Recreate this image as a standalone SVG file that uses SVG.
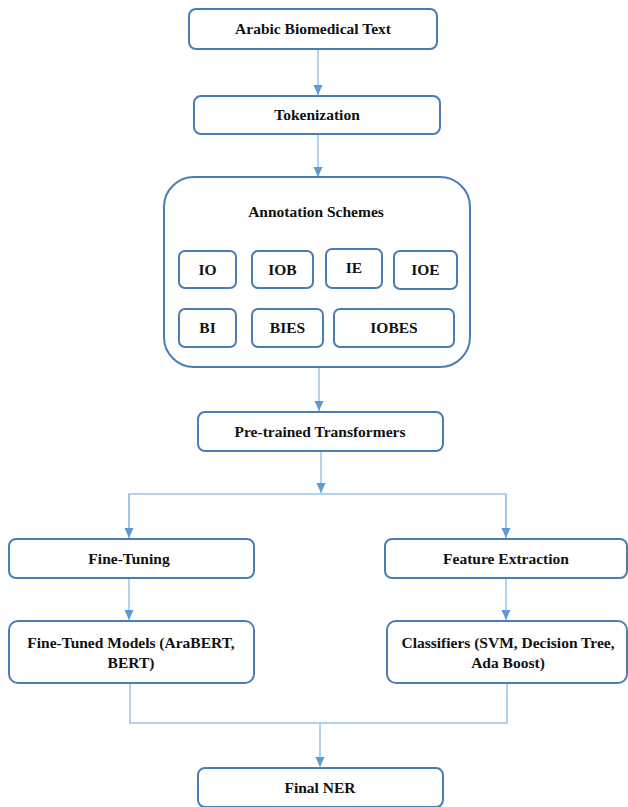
<svg xmlns="http://www.w3.org/2000/svg" width="628" height="807" viewBox="0 0 628 807">
<defs>
<marker id="ah" markerUnits="userSpaceOnUse" markerWidth="10" markerHeight="10" viewBox="0 0 10 10" refX="10" refY="5" orient="auto">
<path d="M0,0.5 L10,5 L0,9.5 Z" fill="#5b9bd5"/>
</marker>
<style>
.box{fill:#ffffff;stroke:#4a7db5;stroke-width:2}
text{font-family:'Liberation Serif','Times New Roman','DejaVu Serif',serif;font-weight:bold;font-size:15.5px;fill:#111;text-anchor:middle}
.c{fill:none;stroke:#9cc3e8;stroke-width:1.5}
</style>
</defs>
<rect width="628" height="807" fill="#ffffff"/>
<g id="connectors">
<line class="c" x1="318" y1="49" x2="318" y2="95" marker-end="url(#ah)"/>
<line class="c" x1="318" y1="134" x2="318" y2="177" marker-end="url(#ah)"/>
<line class="c" x1="319" y1="367" x2="319" y2="411" marker-end="url(#ah)"/>
<line class="c" x1="321" y1="451" x2="321" y2="493" marker-end="url(#ah)"/>
<polyline class="c" points="129,537 129,494 506,494 506,537"/>
<line class="c" x1="129" y1="494" x2="129" y2="538" marker-end="url(#ah)"/>
<line class="c" x1="506" y1="494" x2="506" y2="538" marker-end="url(#ah)"/>
<line class="c" x1="129" y1="578" x2="129" y2="620" marker-end="url(#ah)"/>
<line class="c" x1="506" y1="578" x2="506" y2="620" marker-end="url(#ah)"/>
<polyline class="c" points="130,683 130,723 507,723 507,683"/>
<line class="c" x1="320" y1="723" x2="320" y2="767" marker-end="url(#ah)"/>
</g>
<g id="arabic-text">
<rect class="box" x="189" y="9" width="248" height="40" rx="7"/>
<text x="313" y="34">Arabic Biomedical Text</text>
</g>
<g id="tokenization">
<rect class="box" x="194" y="96" width="246" height="38" rx="7"/>
<text x="317" y="120">Tokenization</text>
</g>
<g id="annotation-schemes">
<rect class="box" x="164" y="177" width="306" height="190" rx="30"/>
<text x="316" y="217">Annotation Schemes</text>
</g>
<g id="io">
<rect class="box" x="179" y="251" width="57" height="37" rx="6"/>
<text x="207.5" y="275">IO</text>
</g>
<g id="iob">
<rect class="box" x="252" y="251" width="61" height="37" rx="6"/>
<text x="282.5" y="275">IOB</text>
</g>
<g id="ie">
<rect class="box" x="326" y="249" width="56" height="39" rx="6"/>
<text x="354" y="273">IE</text>
</g>
<g id="ioe">
<rect class="box" x="394" y="251" width="63" height="38" rx="6"/>
<text x="425.5" y="275">IOE</text>
</g>
<g id="bi">
<rect class="box" x="179" y="309" width="57" height="38" rx="6"/>
<text x="207.5" y="333">BI</text>
</g>
<g id="bies">
<rect class="box" x="252" y="309" width="71" height="38" rx="6"/>
<text x="287.5" y="333">BIES</text>
</g>
<g id="iobes">
<rect class="box" x="334" y="309" width="120" height="38" rx="6"/>
<text x="394" y="333">IOBES</text>
</g>
<g id="pretrained">
<rect class="box" x="198" y="412" width="245" height="39" rx="7"/>
<text x="320" y="437">Pre-trained Transformers</text>
</g>
<g id="fine-tuning">
<rect class="box" x="9" y="539" width="245" height="39" rx="7"/>
<text x="129" y="564">Fine-Tuning</text>
</g>
<g id="feature-extraction">
<rect class="box" x="385" y="539" width="242" height="39" rx="7"/>
<text x="506" y="564">Feature Extraction</text>
</g>
<g id="fine-tuned-models">
<rect class="box" x="9" y="621" width="245" height="62" rx="9"/>
<text x="131" y="648">Fine-Tuned Models (AraBERT,</text>
<text x="131" y="668">BERT)</text>
</g>
<g id="classifiers">
<rect class="box" x="387" y="621" width="240" height="62" rx="9"/>
<text x="508" y="648">Classifiers (SVM, Decision Tree,</text>
<text x="508" y="668">Ada Boost)</text>
</g>
<g id="final-ner">
<rect class="box" x="198" y="768" width="245" height="39" rx="7"/>
<text x="320" y="793">Final NER</text>
</g>
</svg>
